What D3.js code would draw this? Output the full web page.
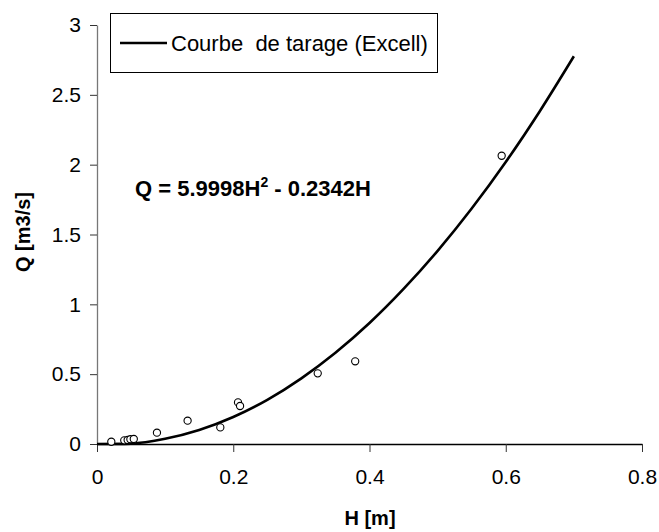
<!DOCTYPE html>
<html>
<head>
<meta charset="utf-8">
<script src="https://cdn.jsdelivr.net/npm/d3@7"></script>
<style>
  body { margin: 0; background: #fff; }
  text { font-family: "Liberation Sans", Arial, sans-serif; fill: #000; }
</style>
</head>
<body>
<svg width="659" height="532"></svg>
<script>
"use strict";

// Data.

// Measured points (H [m], Q [m3/s]).
var pointH = [0.021, 0.040, 0.045, 0.049, 0.054, 0.088, 0.133, 0.181, 0.207, 0.210, 0.324, 0.379, 0.594];
var pointQ = [0.016, 0.026, 0.029, 0.034, 0.036, 0.081, 0.167, 0.119, 0.298, 0.272, 0.506, 0.592, 2.064];

// Rating curve, sampled off the drawn line.
var curveH = [0, 0.05, 0.10, 0.15, 0.20, 0.25, 0.30, 0.35, 0.40, 0.45, 0.50, 0.55, 0.60, 0.65, 0.70];
var curveQ = [0, 0.003, 0.037, 0.100, 0.193, 0.316, 0.470, 0.653, 0.866, 1.110, 1.383, 1.686, 2.019, 2.383, 2.776];

var xTicks = [0, 0.2, 0.4, 0.6, 0.8];
var yTicks = [0, 0.5, 1, 1.5, 2, 2.5, 3];

var legendLabel = "Courbe\u00a0\u00a0de tarage (Excell)";
var xTitle = "H [m]";
var yTitle = "Q [m3/s]";

// SVG.

var svg = d3.select("svg");

var X0 = 97, X1 = 642;
var Y0 = 444, Y1 = 25;

var TickFont = "21px";
var TitleFont = "20px";

var x = d3.scaleLinear().domain([0, 0.8]).range([X0, X1]);
var y = d3.scaleLinear().domain([0, 3]).range([Y0, Y1]);
var fmt = d3.format("");

// Axes.

var xAxis = svg.append("g")
    .attr("transform", "translate(0," + Y0 + ")")
    .call(d3.axisBottom(x).tickValues(xTicks).tickSize(8).tickSizeOuter(0).tickFormat(fmt));
xAxis.select(".domain").attr("stroke", "#000").attr("stroke-width", 1.3);
xAxis.selectAll(".tick line").attr("stroke", "#333");
xAxis.selectAll(".tick text")
    .attr("y", 25)
    .attr("dy", "0.71em");

var yAxis = svg.append("g")
    .attr("transform", "translate(" + X0 + ",0)")
    .call(d3.axisLeft(y).tickValues(yTicks).tickSize(7).tickSizeOuter(0).tickFormat(fmt));
yAxis.select(".domain").attr("stroke", "#777").attr("stroke-width", 1.3);
yAxis.selectAll(".tick line").attr("stroke", "#333");
yAxis.selectAll(".tick text")
    .attr("x", -16);

svg.selectAll(".tick text")
    .attr("fill", "#000")
    .style("font-family", "Liberation Sans, Arial, sans-serif")
    .style("font-size", TickFont);

// Axis titles.

svg.append("text")
    .attr("x", 370)
    .attr("y", 525)
    .attr("text-anchor", "middle")
    .style("font-size", TitleFont)
    .style("font-weight", "bold")
    .text(xTitle);

svg.append("text")
    .attr("transform", "translate(30,232) rotate(-90)")
    .attr("text-anchor", "middle")
    .style("font-size", TitleFont)
    .style("font-weight", "bold")
    .text(yTitle);

// Rating curve.

var line = d3.line()
    .x(function(d){ return x(d[0]); })
    .y(function(d){ return y(d[1]); })
    .curve(d3.curveMonotoneX);

svg.append("path")
    .datum(d3.zip(curveH, curveQ))
    .attr("d", line)
    .attr("fill", "none")
    .attr("stroke", "#000")
    .attr("stroke-width", 2.6);

// Measured points, on top.

svg.selectAll("circle.pt")
    .data(d3.zip(pointH, pointQ))
    .enter()
    .append("circle")
        .attr("class", "pt")
        .attr("cx", function(d){ return x(d[0]); })
        .attr("cy", function(d){ return y(d[1]); })
        .attr("r", 3.6)
        .attr("fill", "#fff")
        .attr("stroke", "#000")
        .attr("stroke-width", 1.1);

// Equation.

var eq = svg.append("text")
    .attr("x", 135)
    .attr("y", 196)
    .style("font-size", "22px")
    .style("font-weight", "bold");
eq.append("tspan").text("Q = 5.9998H");
eq.append("tspan").attr("dy", -9).style("font-size", "14px").text("2");
eq.append("tspan").attr("dy", 9).text(" - 0.2342H");

// Legend.

var legend = svg.append("g");
legend.append("rect")
    .attr("x", 110.5)
    .attr("y", 13.5)
    .attr("width", 327)
    .attr("height", 59)
    .attr("fill", "#fff")
    .attr("stroke", "#000")
    .attr("stroke-width", 1);
legend.append("line")
    .attr("x1", 120).attr("x2", 167)
    .attr("y1", 43).attr("y2", 43)
    .attr("stroke", "#000")
    .attr("stroke-width", 2.6);
legend.append("text")
    .attr("x", 171)
    .attr("y", 51)
    .style("font-size", "22px")
    .text(legendLabel);
</script>
</body>
</html>
